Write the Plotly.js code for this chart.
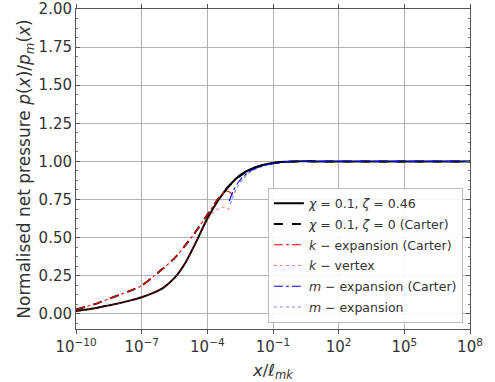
<!DOCTYPE html>
<html>
<head>
<meta charset="utf-8">
<script src="https://cdn.plot.ly/plotly-3.0.1.min.js"></script>
<style>html,body{margin:0;padding:0;background:#fff;}#chart{width:495px;height:382px;}</style>
</head>
<body>
<div id="chart"></div>
<script>
// log10(x) sample positions and values
const solidLogX = [-10, -9.5, -9, -8.5, -8, -7.5, -7, -6.5, -6, -5.5, -5, -4.5, -4, -3.5, -3, -2.5, -2, -1.5, -1, -0.5, 0, 1, 2, 4, 6, 8];
const solidY    = [0.018, 0.028, 0.04, 0.055, 0.07, 0.088, 0.108, 0.135, 0.172, 0.235, 0.335, 0.475, 0.625, 0.745, 0.84, 0.91, 0.95, 0.975, 0.99, 0.997, 1.0, 1.0, 1.0, 1.0, 1.0, 1.0];

const carterLogX = [-10, -9.5, -9, -8.5, -8, -7.5, -7, -6.5, -6, -5.5, -5, -4.5, -4, -3.5, -3, -2.5, -2, -1.5, -1, -0.5, 0, 1, 2, 4, 6, 8];
const carterY    = [0.028, 0.048, 0.07, 0.098, 0.125, 0.152, 0.185, 0.24, 0.30, 0.365, 0.45, 0.545, 0.65, 0.755, 0.84, 0.905, 0.95, 0.975, 0.99, 0.997, 1.0, 1.0, 1.0, 1.0, 1.0, 1.0];

const kExpLogX = [-10, -9.5, -9, -8.5, -8, -7.5, -7, -6.5, -6, -5.5, -5, -4.5, -4, -3.5, -3.2, -3.0, -2.85];
const kExpY    = [0.028, 0.048, 0.07, 0.098, 0.125, 0.152, 0.185, 0.24, 0.30, 0.365, 0.45, 0.545, 0.65, 0.755, 0.80, 0.80, 0.78];

const kVtxLogX = [-10, -9.5, -9, -8.5, -8, -7.5, -7, -6.5, -6, -5.5, -5, -4.5, -4.2, -4, -3.8, -3.6, -3.4, -3.2, -3.0, -2.9];
const kVtxY    = [0.018, 0.028, 0.04, 0.055, 0.07, 0.088, 0.108, 0.135, 0.172, 0.235, 0.335, 0.475, 0.565, 0.615, 0.655, 0.68, 0.695, 0.70, 0.685, 0.67];

const mExpCLogX = [-3.0, -2.8, -2.6, -2.4, -2.2, -2.0, -1.5, -1.0, -0.5, 0, 1, 2, 4, 6, 8];
const mExpCY    = [0.74, 0.81, 0.86, 0.895, 0.92, 0.94, 0.97, 0.985, 0.995, 1.0, 1.0, 1.0, 1.0, 1.0, 1.0];

const mExpLogX = [-2.95, -2.8, -2.6, -2.4, -2.2, -2.0, -1.5, -1.0, -0.5, 0, 1, 2, 4, 6, 8];
const mExpY    = [0.72, 0.78, 0.84, 0.88, 0.91, 0.935, 0.965, 0.985, 0.994, 0.998, 1.0, 1.0, 1.0, 1.0, 1.0];

const xTickExp = [-10, -7, -4, -1, 2, 5, 8];
const yTicks = [0, 0.25, 0.5, 0.75, 1.0, 1.25, 1.5, 1.75, 2.0];

const toX = a => a.map(v => Math.pow(10, v));

const specs = [
  [solidLogX, solidY, '<i>χ</i> = 0.1, <i>ζ</i> = 0.46', '#000', 2, 'solid'],
  [carterLogX, carterY, '<i>χ</i> = 0.1, <i>ζ</i> = 0 (Carter)', '#000', 2, 'dash'],
  [kExpLogX, kExpY, '<i>k</i> − expansion (Carter)', '#ff0000', 1.1, 'dashdot'],
  [kVtxLogX, kVtxY, '<i>k</i> − vertex', 'rgba(255,0,0,0.5)', 1.1, 'dot'],
  [mExpCLogX, mExpCY, '<i>m</i> − expansion (Carter)', '#0000ff', 1.1, 'dashdot'],
  [mExpLogX, mExpY, '<i>m</i> − expansion', 'rgba(0,0,255,0.5)', 1.1, 'dot']
];

const traces = specs.map((s, i) => ({
  type: 'scatter', mode: 'lines',
  x: toX(s[0]), y: s[1], name: s[2], legendgroup: 'g' + i,
  line: {color: s[3], width: s[4], dash: s[5], shape: 'spline', smoothing: 0.8}
}));

const layout = {
  width: 495, height: 382,
  margin: {l: 76, r: 25, t: 9, b: 53},
  paper_bgcolor: '#fff', plot_bgcolor: '#fff',
  font: {family: 'DejaVu Sans, sans-serif', color: '#333', size: 14},
  showlegend: true,
  legend: {
    x: 0.982, y: 0.02, xanchor: 'right', yanchor: 'bottom',
    bgcolor: 'rgba(255,255,255,0.9)', bordercolor: '#bbb', borderwidth: 1,
    font: {size: 12.5, color: '#333'},
    tracegroupgap: 1.5, itemwidth: 30
  },
  xaxis: {
    type: 'log', range: [-10, 8],
    tickvals: xTickExp.map(e => Math.pow(10, e)),
    ticktext: xTickExp.map(e => '10<sup>' + (e < 0 ? '−' + (-e) : e) + '</sup>'),
    showgrid: true, gridcolor: '#b0b0b0', gridwidth: 1,
    showline: true, linecolor: '#555', linewidth: 1, mirror: 'ticks',
    ticks: 'outside', ticklen: 4, tickcolor: '#555',
    tickfont: {size: 15, color: '#333'},
    zeroline: false,
    title: {text: '<i>x</i>/<i>ℓ</i><sub><i>mk</i></sub>', font: {size: 16.5, color: '#333'}, standoff: 9}
  },
  yaxis: {
    range: [-0.1, 2.0],
    tickvals: yTicks,
    ticktext: yTicks.map(v => v.toFixed(2)),
    showgrid: true, gridcolor: '#b0b0b0', gridwidth: 1,
    showline: true, linecolor: '#555', linewidth: 1, mirror: 'ticks',
    ticks: 'inside', ticklen: 4, tickcolor: '#555',
    minor: {dtick: 0.0625, tick0: 0, ticks: 'inside', ticklen: 2, tickcolor: '#777', showgrid: false},
    tickfont: {size: 15, color: '#333'},
    zeroline: false,
    title: {text: 'Normalised net pressure <i>p</i>(<i>x</i>)/<i>p</i><sub><i>m</i></sub>(<i>x</i>)', font: {size: 17, color: '#333'}, standoff: 3}
  }
};

Plotly.newPlot('chart', traces, layout, {displayModeBar: false, staticPlot: true});
</script>
</body>
</html>
